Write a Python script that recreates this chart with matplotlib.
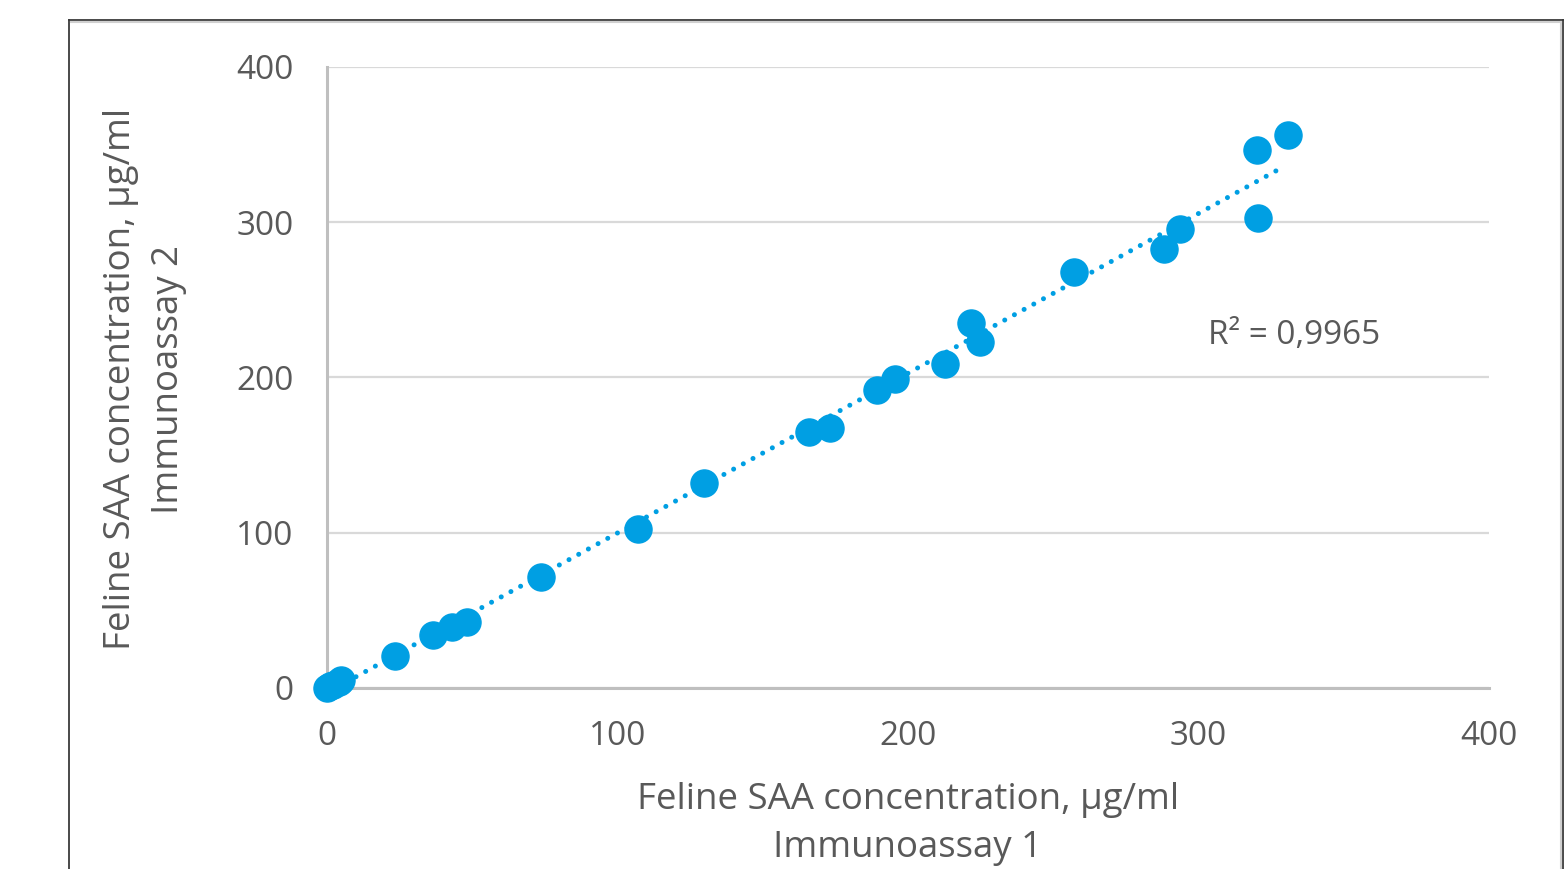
import numpy as np
import matplotlib
matplotlib.use('Agg')
import matplotlib.pyplot as plt
from matplotlib.lines import Line2D

# Immunoassay 1 (x) vs Immunoassay 2 (y), ug/ml
assay1 = [0, 1, 2, 4, 5, 23.4, 36.5, 43, 48.2, 73.7, 107, 129.8, 165.9, 173.1,
          189.3, 195.5, 212.7, 221.7, 224.8, 257.1, 288.1, 293.6, 320.1, 320.5, 330.8]
assay2 = [0, 1, 2, 4, 5, 20.6, 34, 39.3, 42.5, 71.5, 102.4, 132, 164.9, 167.5,
          192, 199, 208.7, 235, 222.9, 268, 282.8, 295.7, 346.5, 302.7, 356.2]
ticks = [0, 100, 200, 300, 400]
r2_label = 'R² = 0,9965'

blue = '#009FE3'
grey_text = '#595959'

plt.rcParams['font.family'] = ['Open Sans', 'DejaVu Sans']

fig = plt.figure(figsize=(15.65, 8.69), dpi=100)
ax = fig.add_axes([0.2089, 0.2083, 0.9514 - 0.2089, 0.9229 - 0.2083])

x = np.array(assay1)
y = np.array(assay2)
slope, icpt = np.polyfit(x, y, 1)
xt = np.array([x.min(), x.max() - 3])
ax.plot(xt, slope * xt + icpt, color=blue, lw=3.6, linestyle=(0, (0.01, 2.2)),
        dash_capstyle='round', zorder=3)
ax.plot(x, y, 'o', ms=19.5, color=blue, mec=blue, clip_on=False, zorder=4)

ax.set_xlim(0, 400)
ax.set_ylim(0, 400)
ax.set_xticks(ticks)
ax.set_yticks(ticks)
ax.yaxis.grid(True, color='#D9D9D9', lw=1.6)
ax.set_axisbelow(True)
for s in ['top', 'right']:
    ax.spines[s].set_visible(False)
for s in ['left', 'bottom']:
    ax.spines[s].set_color('#BFBFBF')
    ax.spines[s].set_linewidth(2.2)
ax.tick_params(length=0, labelsize=24, labelcolor=grey_text)
ax.tick_params(axis='y', pad=24)
ax.tick_params(axis='x', pad=23)

ax.text(333, 227, r2_label, fontsize=24, color=grey_text, ha='center', va='center')

fig.text(908 / 1565, 1 - 824 / 869, 'Feline SAA concentration, µg/ml\nImmunoassay 1',
         fontsize=26.4, color=grey_text, ha='center', va='center', linespacing=1.45)
fig.text(145 / 1565, 1 - 379 / 869, 'Feline SAA concentration, µg/ml\nImmunoassay 2',
         fontsize=26.4, color=grey_text, ha='center', va='center', rotation=90,
         linespacing=1.45)

# outer chart frame (cut off at bottom)
W, H = 1565, 869
fx = lambda p: p / W
fy = lambda p: 1 - p / H
fig.add_artist(Line2D([fx(69), fx(69)], [0, fy(20)], color='#3a3a3a', lw=1.3))
fig.add_artist(Line2D([fx(69), fx(1563)], [fy(20), fy(20)], color='#3a3a3a', lw=1.3))
fig.add_artist(Line2D([fx(1563), fx(1563)], [0, fy(20)], color='#3a3a3a', lw=1.3))
fig.add_artist(Line2D([fx(71), fx(1561)], [fy(22), fy(22)], color='#D0D0D0', lw=1.5))
fig.add_artist(Line2D([fx(1561), fx(1561)], [0, fy(22)], color='#D0D0D0', lw=1.5))

fig.savefig('out.png', dpi=100)
